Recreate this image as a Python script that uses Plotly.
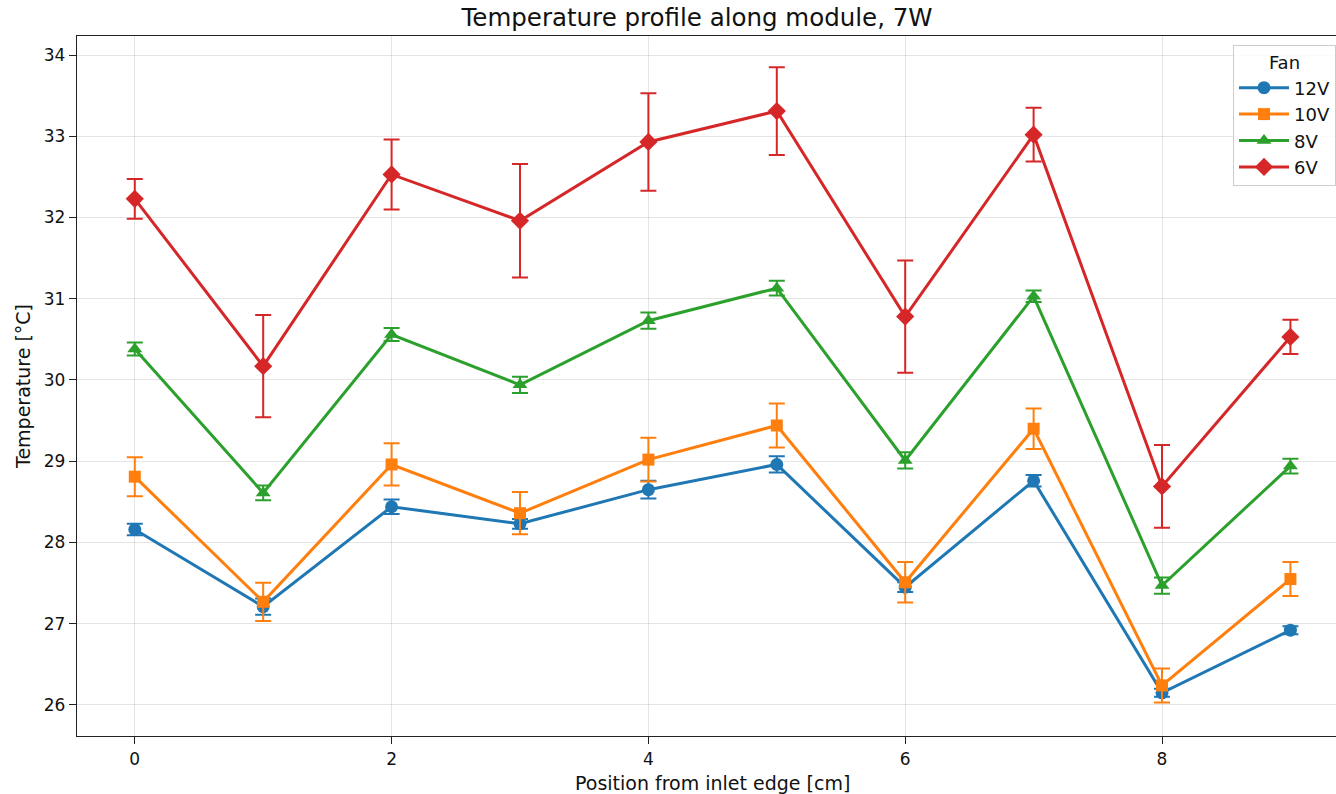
import plotly.graph_objects as go

positions = [0, 1, 2, 3, 4, 5, 6, 7, 8, 9]
series_names = ["12V", "10V", "8V", "6V"]

temp_12v = [28.16, 27.21, 28.44, 28.23, 28.65, 28.96, 27.45, 28.76, 26.15, 26.92]
err_12v = [0.07, 0.10, 0.09, 0.06, 0.11, 0.10, 0.06, 0.07, 0.05, 0.05]

temp_10v = [28.81, 27.27, 28.96, 28.36, 29.02, 29.44, 27.51, 29.40, 26.24, 27.55]
err_10v = [0.24, 0.235, 0.26, 0.26, 0.27, 0.27, 0.25, 0.25, 0.21, 0.21]

temp_8v = [30.38, 28.61, 30.56, 29.94, 30.73, 31.13, 29.01, 31.03, 27.47, 28.94]
err_8v = [0.08, 0.09, 0.08, 0.10, 0.10, 0.09, 0.10, 0.07, 0.10, 0.09]

temp_6v = [32.23, 30.17, 32.53, 31.96, 32.93, 33.31, 30.78, 33.02, 28.69, 30.53]
err_6v = [0.245, 0.63, 0.43, 0.70, 0.60, 0.54, 0.69, 0.33, 0.51, 0.21]

x_ticks = [0, 2, 4, 6, 8]
y_ticks = [26, 27, 28, 29, 30, 31, 32, 33, 34]

colors = ["#1f77b4", "#ff7f0e", "#2ca02c", "#d62728"]
symbols = ["circle", "square", "triangle-up", "diamond"]
marker_sizes = [13, 12, 13, 14]
temps = [temp_12v, temp_10v, temp_8v, temp_6v]
errs = [err_12v, err_10v, err_8v, err_6v]

fig = go.Figure()
for name, t, e, c, s, ms in zip(series_names, temps, errs, colors, symbols, marker_sizes):
    fig.add_trace(go.Scatter(
        x=positions, y=t, name=name, mode="lines+markers",
        line=dict(color=c, width=3),
        marker=dict(color=c, symbol=s, size=ms),
        error_y=dict(type="data", array=e, visible=True, color=c, thickness=2, width=8),
    ))

font_family = "DejaVu Sans, sans-serif"
fig.update_layout(
    width=1336, height=794,
    margin=dict(l=77, r=0, t=36, b=58, autoexpand=False),
    paper_bgcolor="white", plot_bgcolor="white",
    font=dict(family=font_family, size=17, color="#111111"),
    title=dict(text="Temperature profile along module, 7W", x=0.4925, xanchor="center",
               xref="paper", y=1 - 17 / 794, yanchor="middle", yref="container",
               font=dict(size=24.5, family=font_family, color="#111111")),
    legend=dict(
        title=dict(text="Fan", side="top center", font=dict(size=18)),
        x=1.0, xanchor="right", y=0.987, yanchor="top",
        bgcolor="rgba(255,255,255,0.85)", bordercolor="#cccccc", borderwidth=1,
        font=dict(size=18), itemwidth=50, tracegroupgap=0,
    ),
    showlegend=True,
    annotations=[dict(
        text="Position from inlet edge [cm]", xref="paper", yref="paper",
        x=0.5044, y=-0.067, xanchor="center", yanchor="middle", showarrow=False,
        font=dict(size=19, family=font_family, color="#111111"),
    )],
)
fig.update_xaxes(
    range=[-0.45, 9.355], tickvals=x_ticks, ticktext=[str(v) for v in x_ticks],
    showgrid=True, gridcolor="rgba(0,0,0,0.1)", gridwidth=1,
    showline=True, linecolor="#222222", linewidth=1.3, mirror=True,
    ticks="outside", ticklen=7, tickcolor="#222222", zeroline=False, automargin=False,
    tickfont=dict(size=17),
)
fig.update_yaxes(
    range=[25.618, 34.234], tickvals=y_ticks, ticktext=[str(v) for v in y_ticks],
    showgrid=True, gridcolor="rgba(0,0,0,0.1)", gridwidth=1,
    showline=True, linecolor="#222222", linewidth=1.3, mirror=False,
    ticks="outside", ticklen=7, tickcolor="#222222", zeroline=False, automargin=False,
    title=dict(text="Temperature [°C]", font=dict(size=19), standoff=8),
    tickfont=dict(size=17),
)

fig.write_html("out.html", config={"displayModeBar": False},
               post_script="document.body.style.margin='0';")
